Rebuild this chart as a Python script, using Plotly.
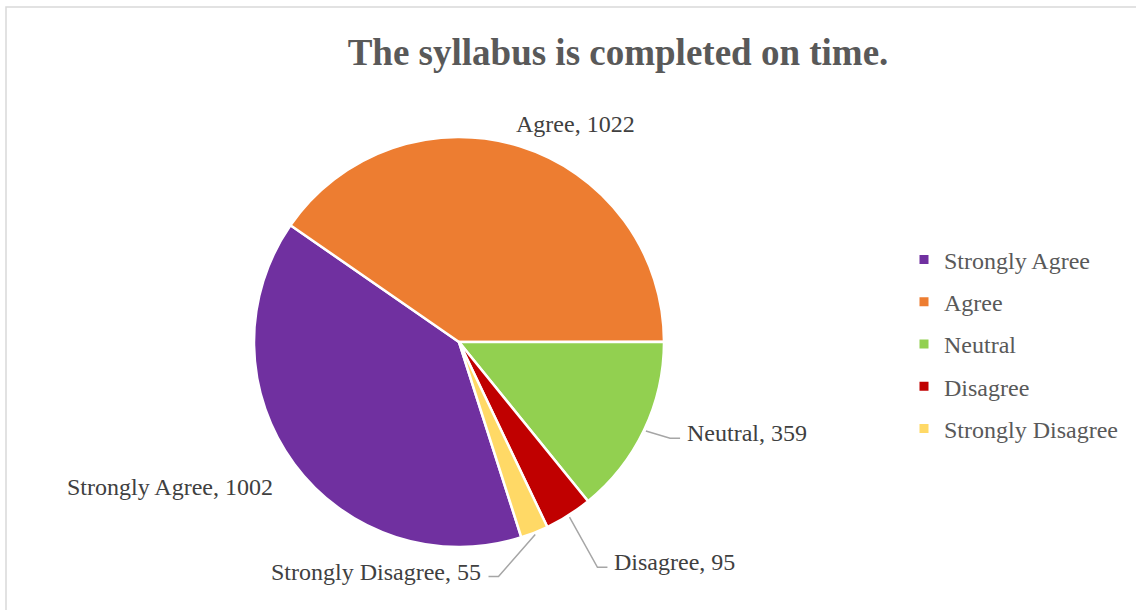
import math
import plotly.graph_objects as go

# ---- data ----
categories = ["Strongly Agree", "Agree", "Neutral", "Disagree", "Strongly Disagree"]
values = [1002, 1022, 359, 95, 55]
colors = ["#7030A0", "#ED7D31", "#92D050", "#C00000", "#FFD966"]
title_text = "The syllabus is completed on time."

# ---- layout / style ----
W, H = 1136, 610
cx_px, cy_px, r_px = 459, 342, 205
start_angle = 162.3  # degrees clockwise from 12 o'clock
FONT = "Liberation Serif, Times New Roman, serif"

# label placement (style): offset of the label's near edge from slice edge, anchor, leader line
label_style = {
    "Strongly Agree": (-19, 23, "right", False),
    "Agree": (55, -22, "center", False),
    "Neutral": (41, 3, "left", True),
    "Disagree": (44, 47, "left", True),
    "Strongly Disagree": (-51, 39, "right", True),
}

dom_x = [(cx_px - r_px) / W, (cx_px + r_px) / W]
dom_y = [1 - (cy_px + r_px) / H, 1 - (cy_px - r_px) / H]

fig = go.Figure()
fig.add_trace(go.Pie(
    labels=categories, values=values, sort=False, direction="clockwise",
    rotation=start_angle, marker=dict(colors=colors, line=dict(color="white", width=2.5)),
    textinfo="none", showlegend=False, domain=dict(x=dom_x, y=dom_y),
    hovertemplate="%{label}: %{value}<extra></extra>",
))

# legend proxies
for c, col in zip(categories, colors):
    fig.add_trace(go.Scatter(
        x=[None], y=[None], mode="markers", name=c, legendgroup=c,
        marker=dict(symbol="square", size=9, color=col),
    ))

def px_to_paper(x, y):
    return x / W, 1 - y / H

total = sum(values)
annotations = []
shapes = []
cum = 0.0
for cat, v in zip(categories, values):
    a0 = start_angle + 360 * cum / total
    cum += v
    a1 = start_angle + 360 * cum / total
    mid = math.radians((a0 + a1) / 2)
    ex = cx_px + r_px * math.sin(mid)
    ey = cy_px - r_px * math.cos(mid)
    dx, dy, anc, leader = label_style[cat]
    nx, ny = ex + dx, ey + dy
    px, py = px_to_paper(nx, ny)
    annotations.append(dict(
        x=px, y=py, xref="paper", yref="paper", xanchor=anc, yanchor="middle",
        text=f"{cat}, {v}", showarrow=False,
        font=dict(family=FONT, size=24, color="#404040"),
    ))
    if leader:
        sgn = -1 if anc == "left" else 1
        sx = cx_px + (r_px + 2) * math.sin(mid)
        sy = cy_px - (r_px + 2) * math.cos(mid)
        pts = [(sx, sy), (nx + sgn * 15, ny + 5), (nx + sgn * 5, ny + 5)]
        pp = [px_to_paper(*p) for p in pts]
        path = "M {} {} L {} {} L {} {}".format(pp[0][0], pp[0][1], pp[1][0], pp[1][1], pp[2][0], pp[2][1])
        shapes.append(dict(type="path", path=path, xref="paper", yref="paper",
                           line=dict(color="#A6A6A6", width=1.5)))

# chart border
shapes.append(dict(type="rect", xref="paper", yref="paper", x0=6 / W, x1=1.01, y0=-0.01, y1=1 - 7 / H,
                   line=dict(color="#D9D9D9", width=1.5), fillcolor="rgba(0,0,0,0)", layer="below"))

fig.update_layout(
    width=W, height=H, margin=dict(l=0, r=0, t=0, b=0),
    paper_bgcolor="white", plot_bgcolor="white",
    title=dict(text=f"<b>{title_text}</b>", x=618 / W, xanchor="center", y=1 - 52 / H, yanchor="middle",
               font=dict(family=FONT, size=37, color="#595959")),
    xaxis=dict(visible=False), yaxis=dict(visible=False),
    legend=dict(x=904 / W, xanchor="left", y=1 - 344 / H, yanchor="middle",
                font=dict(family=FONT, size=24, color="#595959"), tracegroupgap=8,
                itemwidth=30, bgcolor="rgba(0,0,0,0)"),
    annotations=annotations, shapes=shapes,
)

fig.write_html("out.html", config={"displayModeBar": False},
               post_script="document.body.style.margin='0px';")
